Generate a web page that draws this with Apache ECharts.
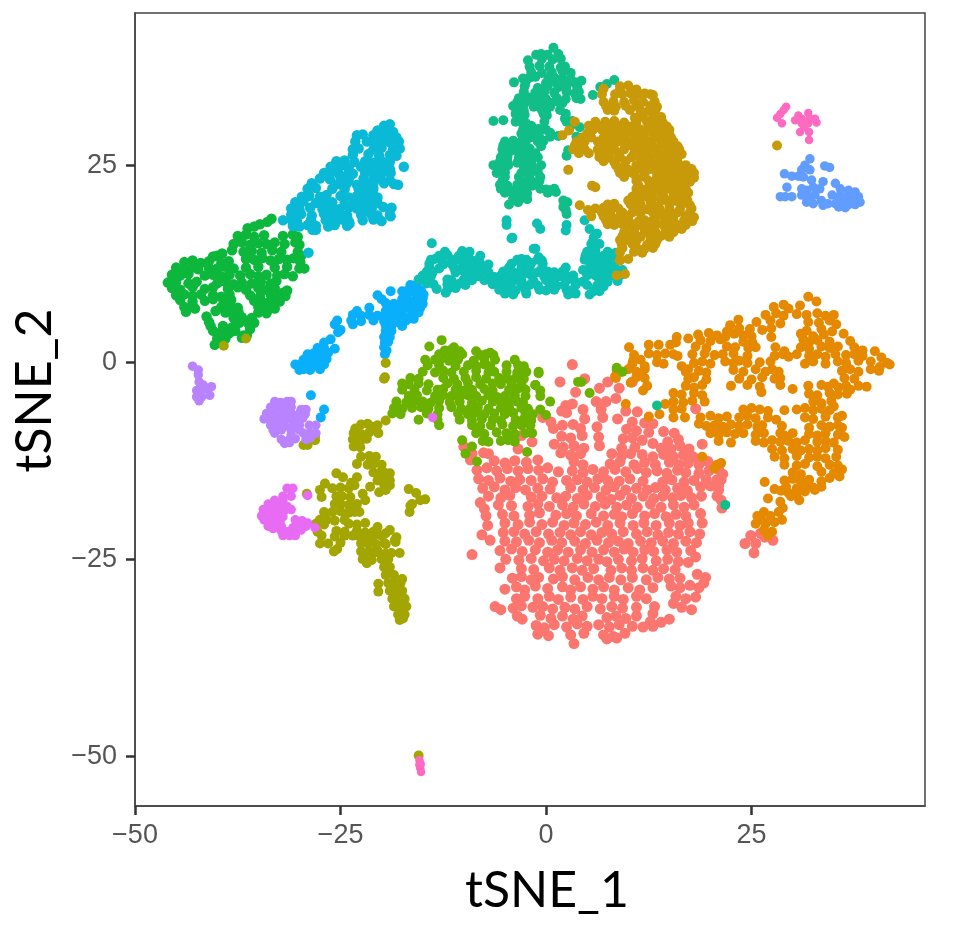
<!DOCTYPE html>
<html>
<head>
<meta charset="utf-8">
<script src="https://cdn.jsdelivr.net/npm/echarts@6/dist/echarts.min.js"></script>
<style>html,body{margin:0;padding:0;background:#fff}#main{width:954px;height:935px}</style>
</head>
<body>
<div id="main"></div>
<script>
// tick positions
var xTicks = [-50, -25, 0, 25]
var yTicks = [-50, -25, 0, 25]

// clusters in tSNE units
var salmon = [[3.2,-.3],[1.7,-2.5],[4.7,-2.1],[3.6,-3.8],[7.5,-2.5],[6.5,-3.3],[10.5,-2.5],[8.9,-3.3],[6.1,-5],[7.3,-5],[8.5,-4.6],[2.4,-5.5],[3.2,-5.3],[2.5,-6.4],[1.9,-6.2],[4.5,-6],[6.7,-6],[6.9,-7],[4.7,-7.2],[8.7,-7.2],[9.7,-6.2],[11.1,-6.3],[10.5,-7.6],[12,-7.7],[13,-7.8],[-.4,-7],[.6,-7.6],[.9,-8.4],[2,-8],[3.3,-7.9],[4.2,-8.4],[6.2,-8.2],[9.8,-8.5],[11,-8.7],[12.5,-8.9],[14.3,-8.8],[15.6,-9],
[1.9,-9.4],[3,-9.6],[4.4,-9.3],[6.4,-9.5],[9.4,-9.7],[10.5,-9.6],[11.7,-9.9],[14.8,-10.1],[16.1,-9.8],[1,-10.4],[2.1,-10.8],[3.4,-10.6],[4.6,-10.9],[6.5,-10.6],[9.2,-10.9],[10.8,-10.8],[13,-10.3],[14,-10.9],[15.2,-11],[16.3,-10.6],[17.4,-11],[19,-10.4],
[1.8,-11.5],[3,-11.8],[4.2,-11.6],[8,-11.6],[9.2,-11.9],[10.3,-11.6],[11.7,-11.7],[13,-12],[14.3,-11.7],[15.5,-12],[16.7,-11.8],[17.9,-12],[-10,-10.7],[-9,-11.6],[-7.6,-11.5],[-7,-11.6],[-4.2,-9.7],[-3,-9.3],[-1.7,-10.1],[-3.4,-11],[-9.2,-12.4],
[-6.3,-12.5],[-5,-12.8],[-3.8,-12.5],[-2.4,-12.7],[-1,-12.4],[3.4,-12.6],[4.5,-13],[7.8,-12.9],[9,-12.6],[10.7,-13],[12,-12.7],[13.3,-13],[15,-12.7],[16.2,-13],[17.3,-12.8],[18.6,-13],[19.7,-12.6],
[-8.4,-13.7],[-7.2,-13.4],[-6,-13.8],[-4.7,-13.5],[-3.4,-13.8],[-2.2,-13.5],[-.9,-13.7],[.2,-13.4],[1.5,-13.9],[3.2,-13.8],[4.5,-14],[5.7,-13.6],[7,-13.9],[8.4,-13.6],[9.7,-13.9],[11.1,-13.5],[12.2,-14],[13.5,-13.8],[14.7,-14.1],[16,-13.7],[17,-14],[18.6,-14.1],[19.8,-13.8],[21,-13.6],[21.5,-14.2],
[-8.2,-14.8],[-7,-15],[-5.6,-14.7],[-4.3,-15.1],[-3.2,-14.9],[-1.8,-15],[-.4,-14.8],[.8,-15.2],[2.5,-15],[3.8,-14.9],[5,-15.2],[6.3,-14.8],[7.5,-15],[8.9,-15.1],[10.2,-14.8],[11.8,-15.1],[14.2,-15.2],[15.3,-14.9],[16.8,-15.2],[18,-15],[19.5,-14.9],[20.8,-14.9],
[-7.7,-16],[-6.3,-15.8],[-5,-16.2],[-3.7,-15.9],[-2.5,-16.2],[-1,-16],[.5,-16.1],[3,-15.9],[4.5,-16.2],[5.9,-15.9],[7.3,-16.2],[8.3,-15.8],[9.7,-16.2],[11,-16],[12.3,-16.2],[13.3,-15.9],[14.5,-16.2],[16,-16],[17.2,-16.3],[18.8,-15.8],[20,-15.7],
[-7,-17],[-5.5,-17.2],[-4.4,-16.9],[-1.8,-17.1],[-.5,-17],[1.3,-17.2],[2.4,-17],[3.8,-17.3],[5,-16.9],[6.7,-17.1],[7.9,-17.4],[9,-16.9],[10.4,-17.3],[11.8,-17],[13.1,-17.3],[14.2,-17],[15.4,-17.2],[16.4,-16.9],[17.7,-17.2],[18.9,-17],[21,-16.2],[20.8,-17],
[-8,-17.8],[-7.5,-18.6],[-5.8,-18.1],[-4.2,-18.2],[-2.2,-18.3],[-1,-18],[.4,-18.3],[2,-18.1],[3.3,-18.4],[4.6,-18],[6,-18.3],[7.2,-18],[8.6,-18.4],[9.8,-18.1],[11.1,-18.4],[12.7,-18],[14,-18.4],[15.5,-18.1],[16.8,-18.4],[18,-18.1],[21.3,-17.5],[21.4,-18.5],
[-7.3,-19.5],[-5.3,-19.3],[-3.9,-19.5],[-2,-19.4],[-.8,-19.1],[1.2,-19.4],[2.5,-19.2],[3.7,-19.5],[5.5,-19.2],[7,-19.5],[8.3,-19.3],[9.2,-19.6],[10.5,-19.2],[12,-19.5],[13.2,-19.2],[14.6,-19.6],[15.8,-19.3],[17,-19.5],[18.8,-19.2],
[-7.1,-20.7],[-5,-20.4],[-3.4,-20.6],[-2,-20.3],[-.5,-20.6],[.8,-20.3],[2.2,-20.7],[3.4,-20.4],[4.8,-20.6],[6.1,-20.3],[7.5,-20.7],[9,-20.4],[10.6,-20.7],[11.9,-20.4],[13.4,-20.7],[15,-20.4],[16.3,-20.7],[17.3,-20.4],[19,-20.4],
[-7.8,-21.9],[-6.8,-22.6],[-5.2,-21.6],[-3.9,-21.5],[-2.6,-21.8],[-1.2,-21.5],[.3,-21.8],[1.7,-21.6],[3,-21.9],[4.2,-21.5],[5.5,-21.9],[6.8,-21.6],[8,-21.8],[9.4,-21.5],[11,-21.8],[12.3,-21.5],[13.6,-21.9],[14.9,-21.6],[16.1,-21.8],[17.5,-21.5],[18.7,-21.8],
[-5,-22.7],[-3.6,-22.8],[-2.1,-22.6],[-.8,-22.9],[.7,-22.6],[1.9,-22.9],[3.5,-22.7],[4.8,-23],[6.2,-22.6],[7.6,-22.9],[8.8,-22.7],[10,-23],[11.5,-22.7],[12.8,-22.9],[14.2,-22.7],[15.5,-23],[17,-22.7],[18.3,-22.9],
[-5.6,-23.9],[-4.2,-23.7],[-2.9,-24],[-1.3,-23.8],[.2,-24.1],[1.4,-23.8],[2.7,-24.1],[4.2,-23.8],[5.6,-24.1],[7,-23.8],[8.3,-24.1],[9.5,-23.7],[10.6,-24.1],[12,-23.8],[13.1,-24],[14.7,-23.8],[15.9,-24.1],[17.6,-23.9],[18.2,-24.7],
[-9,-24.4],[-4.9,-25],[-3.3,-25.1],[-1.8,-24.9],[-.3,-25.2],[1,-25],[2.2,-25.2],[3.8,-24.9],[5,-25.2],[6.4,-25],[7.4,-25.3],[8.8,-25],[10.4,-25.2],[11.7,-24.9],[13.4,-25.2],[14.8,-25],[16.1,-25.3],[17.3,-25.4],
[-5.6,-26.1],[-3,-26.2],[-1.5,-26.3],[.4,-26.1],[1.7,-26.4],[3.2,-26.1],[4.4,-26.4],[5.8,-26.2],[7.9,-26.4],[9.2,-26.1],[10.4,-26.4],[11.8,-26.1],[13,-26.4],[14.3,-26.2],[15.7,-26.3],
[-4.1,-27.4],[-3,-27.2],[-1.8,-27.6],[-.9,-27.3],[.9,-27.5],[2,-27.2],[3.5,-27.6],[5.1,-27.3],[6.4,-27.6],[7.7,-27.3],[9.1,-27.6],[10.5,-27.3],[12.2,-27.6],[13.6,-27.3],[15,-27.5],[16.3,-27.4],[18.4,-26.9],[19.4,-27.3],
[-5,-28.8],[-3.6,-28.5],[-2.6,-28.9],[-1.3,-28.4],[.2,-28.7],[2,-28.5],[3,-28.9],[4.2,-28.5],[5.7,-28.8],[7,-28.5],[8.3,-28.9],[10,-28.6],[11.4,-28.9],[13,-28.6],[15.2,-28.4],[16.3,-28.6],[17.5,-28.3],[18.6,-28.6],[19.2,-28],
[-3.6,-30],[-2.6,-29.7],[-1,-30],[.4,-29.7],[1.5,-30.1],[3,-29.8],[4.5,-30.1],[5.7,-29.7],[6.8,-30],[8.3,-29.7],[9.4,-30.1],[11,-29.7],[12.2,-30],[15.8,-29.7],[17,-30],[18.2,-29.8],[15.5,-30.6],[16.5,-31.1],[17.7,-31.4],
[-6.2,-31],[-5.5,-31.4],[-4,-31.2],[-3,-30.9],[-1.6,-31.1],[-.4,-31],[.8,-31.3],[2.3,-31.1],[3.5,-31.3],[5,-31],[6.6,-31.3],[8,-31],[9.3,-31.2],[11,-31.1],[13.2,-31],[13,-31.9],
[-3.5,-32.2],[-2.9,-32.6],[-.7,-32.1],[.6,-32.5],[2,-32.2],[3.3,-32.6],[4.4,-32.2],[7.4,-32.4],[8.5,-32.2],[9.7,-32.5],[11,-32.2],[12.7,-32.9],[15,-32.6],[14,-33],
[-1.2,-33.4],[-.2,-33.7],[1,-33.3],[2.5,-33.6],[3.8,-33.2],[5,-33.5],[6.4,-33.3],[7.7,-33.6],[8.9,-33.3],[10.5,-33.5],[11.8,-33.6],[13,-33.5],[-1,-34.5],[.3,-34.7],[3,-34.6],[4.6,-34.4],[7,-34.6],[8.2,-34.8],[9.6,-34.4],[3.4,-35.7],[7.4,-35.1],[8.6,-35],
[24.2,-23],[24.9,-22],[25.5,-23],[26.1,-21.7],[25.3,-24.2],[26.6,-22.2],[27.6,-22.6],[21.3,-14.9],[21,-15.6],[20.8,-8.3],[18.2,-5.9]]
var orange = [[31.9,8.3],[32.9,7.7],[27.7,7],[28.9,7.3],[30.9,7.2],[29.5,6.8],[26.7,6],[28,6.2],[28.9,5.9],[30.5,6.1],[31.7,6],[33,6.2],[34,5.9],[35,6],[25.6,5.1],[27.3,5.3],[28.5,4.9],[31.9,5.1],[33.2,5],[34.5,5.3],[35.3,4.8],[23.4,5.4],[22.4,4.7],[24.8,4.2],[26.3,4.1],[27.4,4.3],[22,3.9],[23.5,4.3],[31.7,4],[33.5,4.2],[34.8,3.9],
[18.5,3.5],[19.8,3.7],[20.8,3.4],[21.8,3.2],[22.9,3.6],[24,3.4],[25,3.3],[27.4,3.2],[31,3.6],[32.5,3.3],[33.8,3.5],[36.2,3.6],[17.3,3],[18.8,2.8],[20,2.7],[21.2,2.9],[24,2.6],[25.1,2.5],[31.3,2.9],[32,2.5],[33,2.8],[34.5,2.6],[37,2.7],
[10.1,1.9],[12.5,2.2],[13.7,2.2],[15.1,2.2],[15.9,3.2],[15.8,2.5],[18.2,2],[19.5,1.8],[22,2],[23,1.9],[24.6,1.8],[25.5,1.9],[27.9,1.9],[29,1.4],[31,1.9],[32,1.7],[33.5,2],[34.5,1.8],[35.5,2],[37.5,1.9],[38.5,1.5],[40,1.4],
[12.5,1.1],[13.5,.9],[14.5,1.1],[15.5,1],[16,.8],[17.8,1],[19.3,1.1],[20.5,.9],[21.5,1],[22.8,1.1],[24.5,.8],[27.8,.8],[28.8,1],[29.5,.7],[30.5,1],[32,.8],[33,1],[34,.7],[35.2,1],[36.5,.9],[37.5,1],[38.5,.8],
[10.6,.2],[11.5,.3],[13.5,0],[14.3,-.2],[16.5,-.5],[18,-.1],[19,.1],[20,-.2],[21.8,.1],[22.8,-.1],[23.5,.2],[24.5,-.1],[26,0],[27.3,.1],[31.5,-.2],[32.5,.1],[34,-.2],[35.5,.1],[36.5,-.1],[38,.2],[39.5,.1],[40.8,.6],[41.5,-.1],[40.6,-.6],[41.8,-.3],
[8.6,-1],[9.2,-1.2],[10,-.9],[11,-1.2],[12,-.9],[17,-1.2],[17.3,-.9],[18.6,-1.1],[19.5,-1.3],[22.8,-1],[24,-1.2],[25.5,-.9],[26.7,-1.2],[27.5,-.9],[28.3,-1.2],[36,-1.1],[37,-.9],[38,-1.2],[39.5,-.9],[40.5,-1.1],
[8.5,-2],[11,-1.9],[12,-2],[17.3,-2.1],[18,-1.9],[19.5,-2.2],[23.5,-2.1],[25,-2.2],[26.3,-1.9],[27.8,-2.1],[28.5,-2],[36.3,-2],[37.5,-2.1],[35,-2.7],
[11.8,-3.6],[17,-3],[18,-3.2],[19,-2.9],[22.5,-3],[24.5,-2.9],[26,-3.1],[28.5,-2.9],[30,-3.4],[31.9,-3],[33.5,-2.9],[34.3,-3.1],[35.6,-3.2],[36.5,-3],[37,-3.5],[38,-3],[39,-3.1],[15.5,-3.9],[16.5,-4.1],[18,-3.9],[19,-4.2],[26.2,-3.8],[32,-4],[33,-4.2],[34.5,-3.9],[35.5,-4.1],[36.6,-4],
[15.5,-5],[16.7,-5.1],[17.8,-4.9],[19.3,-5],[32.5,-5],[33.5,-5.2],[34.7,-4.9],[9.7,-5.3],[14.5,-5.3],[15.5,-6],[16.5,-5.9],[24,-6],[25,-5.8],[26,-6],[27,-6.2],[29,-6.1],[30.5,-6],[31.5,-5.8],[32.5,-6.1],[33.5,-5.9],[34.5,-6.1],[35,-5.6],
[12.5,-6.9],[13.8,-6.6],[15.5,-7],[16.9,-7],[18.8,-7],[20,-6.8],[21,-7.1],[22,-6.9],[23.5,-7],[24.5,-6.8],[25.5,-7.1],[27,-7],[28,-7.3],[31.5,-7],[32.5,-7.2],[34,-6.9],[35.5,-7],[36,-6.8],
[18.6,-7.8],[19.5,-8.1],[20.5,-8],[21.5,-8.2],[22.5,-7.9],[23.5,-8.1],[24.5,-7.9],[25.7,-8.2],[26.3,-8],[28.7,-8.1],[32,-8.3],[33.5,-8],[34.5,-8.2],[35.5,-8],[36,-8.3],[20,-9],[21,-9.2],[22,-8.9],[23,-9.1],[24,-9],[25.5,-9.2],[26.5,-9],[28.5,-9],[29,-9.3],[30,-9],[32,-9.1],[33,-9.3],[34,-9],[35.5,-9.2],[36.3,-9.5],
[21,-10],[22.5,-10.2],[25.5,-10],[26.5,-10.2],[27.5,-9.9],[28.5,-10.1],[29.5,-10],[30.5,-10.2],[31.5,-9.9],[33,-10.1],[34,-10],[35,-10.2],[27.5,-11],[28.7,-11.2],[30,-11],[31,-11.2],[32,-11],[33,-11.2],[34,-10.9],[35.5,-11.1],[27.8,-12],[29,-12.2],[30.5,-11.9],[32,-12.1],[33,-12],[34,-12.2],[35.3,-12],
[29,-13],[30.5,-13.1],[31.5,-12.9],[33,-13.2],[34.5,-13],[35.5,-13.1],[36,-13.6],[30,-14],[31,-14.2],[33.5,-13.9],[35,-14.1],[35.7,-14.5],[29,-15],[30,-14.8],[31,-15.1],[32,-14.9],[33.5,-15.1],[34.5,-14.7],[29.2,-15.8],[30.5,-16],[31.5,-15.8],[32.5,-15.9],[33.5,-15.8],
[26.6,-15.2],[27.8,-16.1],[28.6,-16.3],[29.5,-16.6],[30.5,-16.8],[31.5,-16.4],[32.7,-16.2],[28.5,-17.7],[29.8,-17],[30.8,-17.5],[27,-17.3],
[25.7,-19.5],[26.5,-19],[27.3,-19.5],[28.3,-19],[28.8,-18.5],[25.5,-20.5],[26.7,-20.5],[27.8,-20.3],[28.7,-20],[26.5,-21.3],[27.5,-21.5],[27,-22],[26.2,-20],
[20.8,-13],[21.3,-12.8],[20.5,-13.5],[19,-12],[10.7,.9],[12,-.5],[11.5,-1.5],[10.5,-.2],[8.4,-1.8],[10.3,-2.6],[12.3,-3]]
var green = [[-33.4,18.2],[-33.9,17.8],[-34.8,17.5],[-36.3,17],[-35.5,17.2],[-37.5,16],[-36.5,16.2],[-35.5,15.9],[-34.3,16.1],[-32,16],[-30.8,16.2],[-30.2,15.9],[-38,15],[-37,15.2],[-36,14.9],[-35,15.1],[-34,15],[-33,15.2],[-31.8,15],[-30.5,15.2],[-30,14.9],[-38.2,14.2],[-36.8,14],[-35.8,14.1],[-34.6,13.9],[-33.3,14.2],[-32.2,14],[-30.2,14],[-29.8,13.5],[-40.5,13.4],[-40,13.5],[-39.4,13.8],[-36.5,13.1],[-35.5,13],[-34.5,13.2],[-33.5,12.9],[-32.5,13.1],[-31.5,13],[-30.7,13.2],[-29.9,12.7],
[-44,12.7],[-43,12.9],[-42,12.6],[-41,12.8],[-39.5,12.6],[-38.6,12.8],[-45,12],[-44,11.8],[-43,12],[-42.3,11.8],[-41,12],[-40,11.9],[-39,12.1],[-38,11.9],[-36.5,12],[-35,12.1],[-33,12],[-31.5,12.1],[-30,11.9],[-29.4,11.9],
[-45.5,11.1],[-44.5,11],[-43.5,11.2],[-41.5,11],[-40.5,11.1],[-39.5,10.9],[-38.5,11.1],[-37.2,11],[-36,11.2],[-35,10.9],[-34,11.1],[-32.7,11],[-31.8,11.2],[-30.8,10.9],[-46,10.1],[-45,10.2],[-43.5,10],[-42.5,10.2],[-40,10],[-39,10.2],[-38,9.9],[-37,10.1],[-35.8,10],[-34.7,10.2],[-33.5,10],[-32.8,10.3],
[-45.5,9.4],[-44.5,9.2],[-43,9.5],[-41.5,9.3],[-40.5,9.5],[-38.7,9.3],[-37.5,9.5],[-36.5,9.2],[-35,9.4],[-34,9.2],[-33,9.4],[-45,8.5],[-44,8.6],[-43,8.4],[-42,8.6],[-40.5,8.5],[-39.5,8.3],[-38.5,8.6],[-36,8.5],[-34.8,8.3],[-33.5,8.6],[-32.7,8.4],[-32,8.8],[-31.7,8.4],[-31.5,9.1],
[-44.5,7.9],[-43,7.7],[-41.5,7.8],[-40.5,8],[-39.2,7.7],[-38.3,7.9],[-35.5,7.8],[-34.5,7.6],[-33.5,7.8],[-33,7.6],[-32.4,7.7],[-44,7],[-43,7.2],[-39.5,7],[-38.5,7.2],[-37.5,6.9],[-35,7],[-34,7.1],[-33.5,6.9],[-33,6.8],[-43.8,6.4],[-42.7,6.8],[-40.2,6.5],[-39,6.3],[-38,6.6],[-37.4,6.3],[-35,6.3],[-34,6.2],
[-41.3,5.8],[-38,5.6],[-37,5.7],[-35.8,5.6],[-35.5,5],[-41,5.1],[-37.3,5],[-36.2,4.9],[-40.8,4.6],[-40.5,4],[-39.3,4.6],[-38.2,4.4],[-36,4.2],[-39.5,3.8],[-38.5,3.7],[-37.8,4],[-36.8,3.4],[-40,3],[-39,3],[-37,3.1],[-36.4,3.4],[-40.3,2.2],[-39.5,2.4]]
var cyan = [[-19.7,30],[-19,30.2],[-20.5,29.4],[-19.7,29.3],[-18.6,29.2],[-23,28.8],[-22.3,28.9],[-21,28.8],[-20,28.6],[-18.9,28.7],[-18.2,28.5],[-23.2,28],[-21.8,28],[-20.8,27.9],[-19.7,28.1],[-19,27.9],[-17.9,28],[-23.5,27],[-22.8,27.1],[-21,27],[-20,27.2],[-18.6,27],[-17.8,27.1],[-23.5,26.3],[-21.6,26.4],[-20.3,26.2],[-19,26.3],[-18.2,26.2],
[-25.5,25.5],[-24.5,25.6],[-23.3,25.4],[-22,25.5],[-21,25.3],[-20,25.5],[-19,25.4],[-26.2,24.8],[-25,24.9],[-24,24.7],[-22.5,24.8],[-21.7,24.6],[-20.5,24.9],[-19.7,24.7],[-19,24.5],[-17.3,24.8],[-27,24],[-26,24.2],[-25.2,23.9],[-24,24.1],[-23.5,23.9],[-22,24],[-21,24.1],[-20,23.9],[-18.9,24],
[-27.5,23.3],[-26.3,23.2],[-25,23.4],[-24,23.2],[-22.2,23.3],[-21,23.2],[-20.2,23.3],[-19,23.1],[-28.5,22.7],[-25.3,22.6],[-24.2,22.7],[-23,22.5],[-22,22.7],[-21,22.6],[-19.7,22.7],[-18.5,22.6],[-18,22.5],[-29,22],[-28,22.1],[-26,22],[-24.5,21.9],[-22.8,22],[-22,21.9],[-21,22],
[-29.7,21],[-28.8,21.1],[-27.5,21],[-26.7,21.2],[-25,21.1],[-24,20.9],[-23,21.1],[-22,21],[-21,21.2],[-20.5,20.9],[-30.5,20.3],[-29.5,20.4],[-28,20.2],[-27,20.4],[-26,20.3],[-24.5,20.2],[-23.5,20.4],[-22.5,20.2],[-21.5,20.4],[-20.5,20.2],
[-31,19.5],[-30,19.4],[-28.7,19.6],[-27.2,19.4],[-26.2,19.5],[-25.2,19.4],[-24,19.6],[-23,19.5],[-22,19.4],[-21.2,19.5],[-19.8,19.7],[-18.8,19.6],[-31,18.7],[-29.8,18.8],[-28.5,18.6],[-27,18.8],[-26,18.7],[-25,18.8],[-24.2,18.6],[-22.5,18.7],[-21.3,18.8],[-20.5,18.6],[-19,18.7],[-18.9,18.5],
[-32,18],[-31,18.1],[-30.3,17.9],[-28.6,18],[-26.8,18],[-25.8,17.9],[-24.8,18.1],[-24,17.9],[-22.3,18],[-21,18.1],[-20,17.9],[-30.8,17.3],[-30,17.2],[-29,17.4],[-28,17.3],[-26.5,17.2],[-25.7,17.4],[-24.2,17.3],[-23.9,17.6],[-28,16.8],[-28.4,16.8],[-28.9,13.9]]
var blue = [[-16.5,9.8],[-15.7,9.9],[-17.5,9],[-16.8,9.1],[-16,8.9],[-15.2,9.1],[-14.9,8.6],[-18.9,9],[-20.5,8.5],[-17,8.4],[-15.8,8.5],[-15,8.1],[-20,8],[-17.5,8],[-16.7,7.8],[-15.5,7.9],[-19.5,7.5],[-18.5,7.4],[-17.5,7.5],[-16,7.4],[-15,7.4],[-19,7],[-18,6.9],[-17,7],[-16,6.8],[-15.3,6.9],
[-23,6.5],[-21.5,6.9],[-19.5,6.5],[-18.5,6.4],[-17.5,6.5],[-16.3,6.4],[-15.5,6.3],[-23.5,6],[-22.5,5.9],[-21.5,6],[-20.5,5.9],[-19.5,5.8],[-18.5,6],[-17.5,5.9],[-16.5,5.8],[-23.7,5.3],[-22.5,5.2],[-21,5.3],[-19.7,5.2],[-18.8,5.3],[-18,5.1],[-17,5.3],[-16.1,5.5],[-23.5,4.8],[-19.5,4.7],[-18.7,4.8],[-17.5,4.6],
[-19.5,4],[-18.8,4],[-25.4,5.3],[-25.7,4.8],[-19.7,3.2],[-19,3.2],[-25.3,3.8],[-25,4.1],[-19.6,2.5],[-19.2,2.6],[-27,2.5],[-26.2,2.9],[-19.7,1.9],[-19.4,1.5],[-27.8,1.8],[-27,1.8],[-25.7,1.7],[-19.6,1],[-29,1],[-28.3,1.1],[-27.5,1],[-26.5,1.2],[-29.5,.3],[-28.7,.4],[-28,.2],[-27.2,.3],[-26.7,.4],[-30.5,-.3],[-29.7,-.2],[-29,-.4],[-28.5,-.3],[-28,-.2],[-27,-.3],[-30,-1],[-29.5,-.9],[-28.7,-1],[-27.5,-.9],[-28.6,-4.2],[-27,-6],[-27.4,-7]]
var teal = [[-13.9,15.1],[-4.1,15.8],[-12.3,14],[-10.2,14.1],[-9.3,14],[-13,13.5],[-12,13.6],[-10.6,13.5],[-9.5,13.4],[-8,13.5],[-1.3,14.4],[-14,13],[-13.5,13.1],[-12.7,12.9],[-11.5,13],[-10.5,13],[-9,12.9],[-8.2,13],[-3.5,13],[-3,13.1],[-2.4,13],[-1,13],[-.5,12.9],[-14.2,12.5],[-12.5,12.4],[-11.5,12.5],[-10,12.6],[-9,12.4],[-8,12.5],[-7,12.4],[-4.2,12.5],[-3,12.4],[-1.8,12.6],[-.4,12.5],
[-14.2,12],[-13,11.9],[-11.2,12],[-10.3,11.9],[-9.5,12],[-8.5,11.9],[-7.5,11.8],[-4.5,12],[-3,11.9],[-2,12],[-.5,11.9],[2.4,12],[-14.5,11.5],[-13.8,11.4],[-11,11.4],[-10,11.5],[-9,11.4],[-8,11.5],[-7,11.4],[-5.2,11.5],[-4,11.4],[-3,11.5],[-2.3,11.3],[-1,11.4],[.2,11.5],[1,11.4],[2,11.5],
[-15,11],[-14,10.9],[-9.5,11],[-8.2,10.9],[-7,10.9],[-6.3,10.8],[-5.5,11],[-4.3,10.9],[-3.5,10.8],[-1.7,10.9],[-.2,10.8],[.7,11],[1.7,10.9],[2.5,10.9],[3.3,11],[-15.5,10.5],[-14.5,10.4],[-12,10.5],[-11.5,10.4],[-10,10.5],[-9,10.4],[-7.5,10.4],[-6,10.3],[-5,10.4],[-4,10.3],[-3,10.4],[-1.5,10.3],[0,10.4],[1,10.3],[2.5,10.4],[3.5,10.3],[4.5,10.2],
[-14.5,10],[-13.7,9.9],[-12,9.9],[-10.5,10],[-9.8,9.8],[-6.5,9.9],[-5.5,9.8],[-4.3,9.9],[-3,9.7],[-2,9.8],[-1,9.7],[.5,9.8],[1.3,9.7],[2.2,9.8],[3.6,9.8],[5,9.8],[-13.3,9.3],[-12,9.2],[-11,9.4],[-5.7,9.2],[-4.7,9.3],[-3.7,9.1],[-2.5,9.2],[-.8,9.2],[0,9.1],[1,9.2],[2.5,9.2],[3,9.1],[-12.2,8.8],[-5,8.7],[-4,8.6],[-2.4,8.7],[2.7,8.6],[3.6,8.7],[5.3,8.6],
[5.8,15.8],[5.5,15],[6.5,15],[5,14],[6,14.1],[7.5,14],[8.5,13.9],[9,14],[4.8,13.5],[6,13.4],[7,13.5],[8,13.4],[4.7,13],[5.5,12.9],[6.5,13],[7.5,12.9],[8.9,12.9],[5.4,12.3],[6.4,12.2],[7.3,12.3],[8.3,12.2],[4.5,11.7],[5.5,11.6],[6.5,11.7],[7.5,11.6],[8.5,11.7],[9.3,11.7],[5,11],[6,11],[7,10.9],[8,11],[9,11],[6.5,10.3],[7.5,10.2],[8.7,10.3],[6.2,9.7],[7,9.6],[5.8,9],[6.5,9],
[-4.8,18],[-4.8,17.4],[-4.2,15.7],[-1.1,17.6],[-.7,16.9],[2.5,17.4],[2.4,16.7],[4.7,18],[5.3,16.9],[6.2,16.3],[-1.5,14.4],[-.9,13.3],[5.7,15.3],[6,14.7]]
var tealgreen = [[.9,39.9],[-1.2,39],[-.6,39.1],[.2,39],[1.5,39.1],[-2.2,38.3],[-.5,38.5],[.8,38.4],[1.8,38.5],[-2,37.5],[-.8,37.6],[.4,37.5],[1.8,37.4],[2.3,37.5],[-1.8,36.8],[-.5,36.7],[.7,36.8],[2,36.9],[3,36.7],[-2.8,36],[-2,36.1],[-1.3,36.2],[.3,36],[1,36.1],[2,36],[3,35.9],[-3.9,35.5],[-2.5,35.5],[0,35.4],[1.2,35.5],[2.2,35.4],[3.5,35.5],[4.3,35.7],[-2.6,35],[-1,34.8],[.2,35],[1.5,34.9],[2.5,35],[3.8,34.9],
[-2.7,34.3],[-1.3,34.2],[-.2,34.3],[1,34.2],[2.5,34.3],[3.5,34.1],[4,34.3],[-3.3,33.5],[-2.2,33.6],[-1,33.5],[0,33.4],[1.3,33.5],[2.4,33.4],[3.7,33.5],[4.2,33.4],[-3.5,33],[-2.6,32.9],[-1.7,33],[-.5,32.9],[.6,32.9],[1.5,33],[2,32.9],[-4,32.5],[-2.8,32.5],[-1.5,32.4],[-.5,32.4],[.5,32.4],[-3.6,32],[-2.7,31.9],[-.5,32],[0,31.9],[1.7,32],[-3.7,31.5],[-2.6,31.4],[-.3,31.5],[.1,31.3],[2.4,31.5],
[-6.4,30.6],[-5.2,30.7],[-3.7,30.5],[-3,30.6],[-2.5,30.4],[-.2,30.5],[2.5,30.5],[3.2,30.6],[-2.7,30],[-1.8,30],[3,30],[-2.8,29.5],[-1.7,29.5],[-.9,29.6],[0,29.5],[4.1,29.8],[-3,29],[-2,29],[-.9,29],[.5,29.1],[-2.8,28.5],[-1.9,28.5],[-.8,28.5],[.5,28.6],[1.5,28.7],[-5,28],[-4,28.1],[-3,28],[-2.5,27.9],[-1,28],[-.3,28.1],[3.7,28.6],
[-5.2,27.5],[-4.3,27.5],[-3.7,27.4],[-.6,27.4],[-5.3,27],[-4.7,27],[-3.8,26.9],[-3,27],[-2,27.1],[2.7,26.9],[-5.2,26.5],[-4.6,26.5],[-3.3,26.5],[-2.4,26.4],[-1.3,26.5],[-5.5,26],[-4.7,26],[-3.3,25.9],[-2,26],[-1,26],[2.5,26.2],[-5.7,25.3],[-4.7,25.4],[-3.5,25.3],[-2.8,25.4],[-1.8,25.3],[-6.4,25],[-5.5,24.9],[-4.6,25],[-2.7,24.8],[-1.7,24.9],[-.6,25],
[-6,24],[-5,24.1],[-3,24],[-2,24],[-1,24.1],[-5,23.5],[-3.3,23.5],[-2,23.4],[-.7,23.5],[-5.3,23],[-3,23],[-1.7,22.9],[-.8,23],[-5.6,22.5],[-4.7,22.4],[-3.5,22.5],[-2.5,22.5],[-1.7,22.4],[-5.5,22],[-4.5,21.9],[-3.5,22],[-2.5,21.9],[-.7,22],[0,21.9],[.5,21.8],[1,22],[-5,21.5],[-4,21.4],[-3,21.5],[-2.3,21.4],[.2,21.5],[1.2,21.6],[-4,20.8],[-3,20.9],[-2.3,20.7],[-4.5,20],[-3.4,20.3],[-2.3,20.7],
[2.1,20.5],[2.6,20.3],[2.1,19.7],[2.5,18.8],[2.4,19.3],[5.7,33.9],[7.4,35.3],[8.3,35.8],[6.6,34.9],[2.3,30.9],[13.5,-5.5],[21.8,-18.1]]
var gold = [[9,35],[10,35.1],[7,34.7],[9,34.5],[10.4,34.5],[11,34.6],[12.7,34],[6.8,34],[8.4,34],[9.3,34],[10.3,34.1],[11.2,34],[12,34.1],[13,33.9],[7,33],[8.2,33.1],[9.5,33],[10.7,33.2],[11.8,33],[13.2,33.1],[7.3,32.5],[8.5,32.4],[9.7,32.5],[11,32.5],[12.7,32.5],[13.5,32.4],[7.5,32],[8.3,31.9],[10.2,32],[11.5,31.9],[12.5,31.9],[13.3,32],[10.8,31],[11.8,31.1],[13,31],[14,31.1],
[6,30.5],[7.2,30.5],[8.3,30.6],[9.5,30.4],[11,30.5],[12.3,30.4],[13.3,30.5],[14.2,30.4],[5.2,30],[6.5,29.9],[7.5,30],[9,30],[10.3,29.9],[11,30],[12.5,29.9],[13.5,30],[14.7,29.9],[3.5,30.5],[2.8,29.4],[2,28.8],[5.7,29.5],[6.8,29.5],[8,29.6],[9,29.5],[10,29.4],[11.5,29.5],[12.8,29.5],[14,29.4],[15,29.5],
[5,29],[7.2,29],[8.5,29],[9.6,29.1],[10.6,29],[11.8,29],[13,29.1],[14.2,29],[15,28.9],[4.4,28.5],[5.5,28.5],[7,28.5],[8,28.4],[9.5,28.5],[11,28.4],[12,28.5],[13.3,28.5],[14.5,28.4],[15.2,28.5],[3.7,28],[4.7,28],[6.3,28],[7.5,27.9],[8.8,28],[10,28],[11,27.9],[12.5,28],[14,28],[15.5,28],
[3.5,27.5],[4.5,27.4],[6.8,27.5],[8,27.4],[9.8,27.5],[10.5,27.4],[11.8,27.5],[13,27.4],[14.5,27.5],[15.7,27.5],[16,27.4],[3.3,27],[4.7,27],[6.3,27],[7.3,26.9],[8.3,27],[9.5,27],[11,26.9],[12.5,27],[13.5,27],[15,26.9],[16.2,27],[4,26.5],[5.2,26.5],[6.5,26.4],[7.5,26.5],[8.8,26.5],[10.7,26.4],[12,26.5],[13.5,26.4],[14.5,26.5],[16,26.5],[16.5,26.4],
[6.5,26],[7.8,25.9],[9,26],[10.4,26],[11.5,25.9],[12.7,26],[14,26],[15.2,25.9],[16,26],[7,25.5],[8.3,25.4],[9.7,25.5],[11.5,25.4],[12.5,25.5],[13.7,25.4],[15,25.5],[16,25.4],[8.5,25],[9.5,24.9],[11,25],[12.2,24.9],[13.2,25],[14.5,25],[15.5,24.9],[17,25],[8.8,24.5],[10,24.4],[11.2,24.5],[12.7,24.5],[14,24.4],[15,24.5],[16.5,24.4],[17.7,24.5],
[9,24],[10.5,24],[12,23.9],[13.5,24],[15,24],[16,23.9],[17,24],[18,24],[2.7,24.4],[9.5,23.5],[11,23.4],[12,23.5],[13.5,23.5],[14.5,23.4],[15.7,23.5],[17,23.5],[18,23.4],[11,23],[12.5,23],[13.5,22.9],[15,23],[16.5,23],[17.5,22.9],[5.6,22.4],[6,22.2],[11.2,22.5],[12.7,22.5],[14.3,22.4],[15.5,22.5],[16.5,22.4],
[11,22],[12,21.9],[13.5,22],[14.8,22],[16,21.9],[17,22],[11,21.5],[12.8,21.4],[14,21.5],[15.5,21.5],[16.5,21.4],[17.3,21.5],[10.5,21],[11.8,21],[13,20.9],[14.3,21],[15.5,21],[16.7,20.9],[10,20.5],[11.3,20.5],[12.7,20.4],[14,20.5],[15,20.5],[16,20.4],[17.2,20.5],
[7.5,20],[8.3,20.1],[10.3,20],[11.5,20],[13,19.9],[15,20],[16.5,20],[17.5,19.9],[4.1,19.9],[6,19.5],[7,19.6],[8,19.5],[8.8,19.5],[11,19.5],[12.3,19.4],[13.8,19.5],[15,19.5],[16.3,19.4],[17.7,19.5],[5.1,19.3],[6.8,19],[7.8,18.9],[9.3,19],[10.5,19],[11.5,18.9],[13,19],[14,19],[15,18.9],[16,19],[17.5,19],
[5.5,18.5],[7,18.5],[8,18.4],[9,18.5],[10,18.5],[13.5,18.5],[14.5,18.4],[15.5,18.5],[17,18.5],[18,18.4],[7.3,18],[8.3,17.9],[9,18],[10,18],[11.3,17.9],[12,18],[13,18],[14.5,17.9],[15.5,18],[16.8,18],[17.8,17.9],[7.5,17.5],[8.3,17.4],[9.3,17.5],[10.5,17.5],[11.5,17.4],[12.3,17.5],[13.5,17.5],[15,17.4],[16.5,17.5],[17,17.4],
[9.7,17],[10.8,17],[13,16.9],[14.5,17],[15.8,17],[16.5,16.9],[9.5,16.5],[10.7,16.4],[12,16.5],[13.3,16.5],[14.5,16.4],[15.5,16.5],[9.3,16],[10.5,16],[11.5,15.9],[12.7,16],[14,16],[15,15.9],[9,15.5],[10,15.5],[11,15.4],[12.7,15.5],[13.5,15.5],[9.2,15],[10.5,15],[12.3,14.9],[13.3,15],[9.3,14.5],[11,14.5],[12,14.4],[13,14.5],[9,14],[10.7,14],[11.7,13.9],[9,13],[10,13.1],[9,12.9],[9.6,11.2],[8.6,11],[28.1,27.5]]
var lime = [[-12.7,2.8],[-14.2,2],[-11.2,1.9],[-12.3,1.5],[-11.5,1.6],[-10.5,1.4],[-8.5,1.4],[-6.8,1.2],[-13,1],[-12,1.1],[-11,.9],[-10.2,1],[-8,.9],[-7.3,1],[-6.4,.9],[-14.7,.3],[-13.5,.3],[-12.8,.4],[-11.8,.2],[-10.7,.3],[-8.8,.2],[-7.5,.3],[-6.2,.3],[-3.8,.3],[-14.4,-.4],[-13,-.4],[-11,-.5],[-9.5,-.4],[-8.5,-.5],[-7.5,-.3],[-6.8,-.5],[-4.8,-.4],[-3.4,-.4],[-2.7,-.5],
[-15,-1.2],[-13.5,-1.3],[-12.5,-1.1],[-11.5,-1.3],[-10,-1.2],[-8.5,-1.1],[-7,-1.3],[-6.3,-1.2],[-4.8,-1.2],[-3.5,-1.3],[-2.4,-1.2],[-.9,-1.2],[-16.5,-2],[-15.5,-2.1],[-12.5,-2],[-11.2,-2.1],[-9.8,-2],[-8.5,-1.9],[-7.3,-2.1],[-5.7,-2],[-4.7,-2.1],[-3.7,-2],[-2.7,-2.1],
[-17.5,-2.7],[-16.7,-2.8],[-15.5,-2.7],[-14.3,-2.8],[-12,-2.7],[-10.8,-2.8],[-9.5,-2.6],[-8,-2.8],[-6.5,-2.7],[-5.5,-2.8],[-4.2,-2.7],[-3,-2.8],[-1.3,-2.9],[-17.5,-3.5],[-16,-3.5],[-14.5,-3.6],[-13.2,-3.5],[-12.5,-3.4],[-11,-3.5],[-10,-3.6],[-9,-3.5],[-7.5,-3.4],[-6.5,-3.6],[-4.5,-3.5],[-3.5,-3.4],[-2.5,-3.5],[-.7,-3.6],
[-16.7,-4.3],[-15.7,-4.2],[-13.5,-4.3],[-12.5,-4.2],[-11.5,-4.3],[-10.5,-4.4],[-9.5,-4.2],[-8.5,-4.3],[-7,-4.2],[-6,-4.4],[-5,-4.3],[-3.8,-4.2],[-2.5,-4.3],[-.7,-4.3],[-18.2,-5],[-17,-5.1],[-16,-4.9],[-15,-5],[-14,-5.1],[-13,-4.9],[-11.7,-5.1],[-10.5,-5],[-9,-5.1],[-7.8,-4.9],[-6.5,-5],[-5.5,-5.1],[-4.5,-4.9],[-3.5,-5],[-2.8,-5.1],[.5,-5],
[-18.5,-5.8],[-17.5,-5.9],[-16.3,-5.8],[-15.2,-5.7],[-14.3,-5.9],[-13,-5.8],[-11.5,-5.7],[-10.3,-5.9],[-9.2,-5.8],[-8.3,-5.7],[-7,-5.9],[-5.5,-5.8],[-4.5,-5.7],[-3,-5.8],[-2.2,-5.9],[-.7,-6],[-18.7,-6.5],[-17.7,-6.6],[-14.5,-6.5],[-13.2,-6.6],[-10.7,-6.5],[-9.5,-6.6],[-8.5,-6.4],[-7.5,-6.6],[-6.3,-6.5],[-5,-6.6],[-4,-6.4],[-2.5,-6.5],[-1.6,-6.6],[0,-6.7],
[-15.5,-7.3],[-13.2,-7.3],[-10.5,-7.3],[-9,-7.4],[-7.8,-7.2],[-6.5,-7.3],[-5.5,-7.4],[-3.7,-7.3],[-2.7,-7.2],[-1.8,-7.4],[-13,-8],[-9,-8],[-8,-8.1],[-6.7,-8],[-5.3,-7.9],[-4,-8.1],[-3,-8],[-1.9,-8],[-8.5,-9],[-7.5,-9.1],[-6,-8.9],[-4.8,-9],[-3.8,-9.1],[-2.5,-9],[-1.7,-9],[-7.7,-10],[-7,-10.1],[-5.5,-10],[-4.6,-9.9],
[-10.2,-9.9],[-9,-10.7],[-9.8,-11.6],[-8.4,-12.6],[-3.8,-10.1],[-2.3,-11.4],[-1.3,-2.9],[-.9,-1.4],[3.9,-2.5],[4.3,-2.5],[5.3,-3.9],[8.6,-.7],[9.3,-1.2]]
var olive = [[-19.5,-7.4],[-20.5,-8],[-21,-8.2],[-21.7,-7.8],[-22.5,-7.9],[-23.2,-8.4],[-23.4,-9],[-22.5,-9.1],[-21.5,-8.9],[-20.4,-9],[-23.5,-9.8],[-22.5,-9.9],[-21.8,-9.7],[-23.4,-10.7],[-22.6,-10.8],[-22.5,-12],[-21.5,-11.9],[-20.7,-12],[-21.7,-13],[-21,-12.9],[-20,-13],[-23,-12.9],[-21,-14],[-20.2,-14],[-19.8,-13.9],[-19,-14.1],[-20.5,-15],[-19.9,-14.9],[-19,-15],
[-25.5,-14.1],[-24.7,-14.6],[-23.7,-15.3],[-23,-14.6],[-19.7,-15.5],[-19,-15.6],[-26,-16],[-25,-15.9],[-24,-16],[-23.3,-15.6],[-21.4,-15.8],[-20.3,-16.5],[-19.5,-16.2],[-26.9,-15.4],[-27.5,-16.2],[-27.3,-17.1],[-25.5,-17],[-24.8,-17],[-23.8,-17.1],[-22.3,-16.7],[-25.7,-18],[-25,-18],[-24,-18.1],[-23,-18],[-22,-17.5],
[-27,-19],[-26,-19],[-25,-18.9],[-24,-19.1],[-23.3,-19],[-22.7,-19],[-27.5,-20],[-26.7,-20],[-25.7,-20.1],[-24.5,-20],[-28,-20.5],[-27,-20.6],[-24,-20.5],[-23,-20.6],[-22,-20.4],[-27.8,-21.5],[-25.5,-21.4],[-24.5,-21.5],[-23,-21.4],[-22,-21.6],[-21,-21.5],[-20.5,-20.9],[-27.3,-22],[-25.7,-22.1],[-24.5,-22],[-23.5,-22],[-22.7,-22.1],[-22,-22],[-21,-22.1],[-20,-22],[-19.5,-21.7],[-19,-21.3],
[-27.5,-23],[-26.5,-23],[-25,-22.9],[-22.5,-23],[-21.7,-23],[-20.7,-23.1],[-19.7,-22.9],[-19.5,-23.1],[-25.8,-24],[-25.4,-23.7],[-22.5,-24],[-21.5,-24],[-20.5,-23.9],[-22.3,-25],[-20.8,-24.1],[-18.2,-22.2],[-18.4,-22.6],[-18.3,-22.8],[-22.2,-24.7],[-21.2,-25.1],[-21.8,-25.5],[-20.4,-24.1],[-19.5,-24.3],[-18.8,-24.2],[-17.8,-24.2],[-20,-25],[-19.2,-25],[-19.7,-26],[-19,-26],[-19.5,-27],[-18.5,-27],[-17.5,-27.5],[-20.4,-28.1],[-20.4,-29.1],[-19.2,-28],[-18.5,-28],[-17.7,-28],[-19,-29],[-18.2,-29],[-17.5,-29],[-18.7,-30],[-18,-30],[-17.2,-30],[-18.5,-31],[-17.7,-31],[-17,-31],[-18,-32],[-17.2,-32],[-17.8,-32.7],[-17.4,-32.5],
[-16.7,-16.1],[-15.8,-16.6],[-16.5,-18.2],[-16.6,-19],[-16.3,-18],[-15.3,-17.5],[-14.7,-17.4],[-29.5,-10.5],[-29,-10.5],[-28.1,-9.9],[-28.1,-9.4],[-29.1,-16.7],[-19.6,-1.9],[-19.7,-2.1],[-39.2,2.1],[-36.5,3],[-19.5,-.1],[-15.5,-49.9]]
var periwinkle = [[32.1,25.8],[31.5,25],[31.1,24.4],[32.1,24.4],[29,23.9],[29.9,23.6],[30.7,23.6],[31.3,23.5],[32.3,23.1],[33.9,24.9],[34.5,24.7],[29.3,22.2],[33.7,22.9],[28.5,21],[29.1,21],[29.9,21],[31.1,22],[31.7,21.8],[32.5,22.2],[33.3,22],[31.1,21.2],[31.9,21],[32.7,21.2],[33.5,20.5],[34.3,20.1],[31.7,20.3],[32.5,20.1],[35.2,22.7],[35.8,22],[36.8,21.8],[37.6,21.6],[38,21],[38.2,20.3],[34.8,21.2],[35.6,21],[36.4,21],[37.2,21],[35.2,20.1],[36,20],[36.8,20],[37.6,20],[35.6,19.7],[36.4,19.6],[37.2,20.4],[33.7,19.9]]
var purple = [[-43,-.5],[-42.3,-1],[-42.3,-1.6],[-42.2,-2.5],[-42.5,-3.6],[-41.9,-3.4],[-41.3,-3.4],[-40.7,-3.1],[-42.5,-4.4],[-41.9,-4.4],[-40.9,-4.2],[-42.2,-4.9],[-41.7,-2.9],
[-33,-5],[-32.3,-5.1],[-31.5,-5],[-31,-5],[-33.5,-5.7],[-32.7,-5.7],[-31.8,-5.8],[-31,-5.7],[-29.8,-6],[-29.2,-6],[-34,-6.5],[-33,-6.5],[-32,-6.6],[-31,-6.5],[-30,-6.5],[-29.3,-6.6],[-34.3,-7.2],[-33.5,-7.2],[-32.5,-7.3],[-31.5,-7.2],[-30.5,-7.2],[-29.6,-7.1],[-33.5,-8],[-32.7,-8],[-31.8,-8.1],[-30.8,-8],[-30,-8],[-33.2,-8.6],[-32.2,-8.6],[-31,-8.7],[-30,-8.6],[-28.8,-8],[-28,-8],[-33,-9],[-31,-9.2],[-29.5,-9],[-28.7,-9],[-28,-9],[-32.2,-9.8],[-31.2,-9.8],[-30.5,-9.7],[-29.2,-9.8],[-28.7,-9.6],[-31.8,-10.3],[-31.2,-10.2]]
var magenta = [[-31.5,-16],[-30.8,-16],[-32,-17],[-31,-17],[-33,-17.5],[-32,-17.5],[-33.8,-18],[-33,-18],[-32,-18],[-31.5,-18.3],[-34.4,-18.7],[-33.5,-18.7],[-32.5,-18.7],[-31.8,-18.8],[-31,-18.7],[-34.6,-19.5],[-33.7,-19.5],[-33,-19.5],[-32,-19.6],[-34.3,-20],[-33.3,-20.1],[-32.3,-20],[-30.5,-20],[-29.7,-20.1],[-33.8,-20.8],[-33,-20.8],[-32.2,-20.8],[-30,-20.6],[-29.2,-20.8],[-29,-20.4],[-33.2,-21.1],[-32.2,-21.4],[-30.8,-21],[-29.8,-21.3],[-31.5,-21.5],[-30.5,-21.5],[-32,-22],[-31.2,-22],[-30.5,-22],[-28.1,-21],[-13.8,-7],[-29,-16.9],[-15.3,-51]]
var pink = [[29.2,32.4],[28.9,32],[28.5,31.5],[28.1,31],[28.7,30.3],[30.7,31.3],[31.9,31.6],[30.3,30.7],[31.1,30.9],[32.1,30.9],[32.7,30.9],[31.1,30.3],[31.9,30.3],[32.9,30.4],[30.9,29.2],[32,29.2],[32,28.2],[31.4,29.8],[-15.4,-50.5],[-15.4,-51.1],[-15.3,-51.5],[-15.2,-52]]

var clusters = [
    { data: salmon, color: '#FA766E', size: 11 },
    { data: orange, color: '#E58900', size: 10 },
    { data: green, color: '#0CB73C', size: 10.5 },
    { data: cyan, color: '#0AB9D6', size: 10.5 },
    { data: blue, color: '#0AAFFA', size: 10 },
    { data: teal, color: '#0CC0B3', size: 10 },
    { data: tealgreen, color: '#12BE88', size: 10 },
    { data: gold, color: '#C89A0A', size: 10 },
    { data: lime, color: '#6BB100', size: 10 },
    { data: olive, color: '#A3A500', size: 10 },
    { data: periwinkle, color: '#619CFF', size: 9.5 },
    { data: purple, color: '#B983FF', size: 9.5 },
    { data: magenta, color: '#E76BF3', size: 9.5 },
    { data: pink, color: '#FF6AC1', size: 8.5 }
]

var chart = echarts.init(document.getElementById('main'))

function tickLabel(v) {
    return String(v).replace('-', '\u2212')
}

function axisStyle(ticks, name, margin) {
    return {
        type: 'value',
        splitLine: { show: false },
        name: name,
        nameLocation: 'middle',
        axisLine: { onZero: false, lineStyle: { color: '#444', width: 1.5 } },
        axisTick: { customValues: ticks, length: 9, lineStyle: { color: '#333', width: 2.5 } },
        axisLabel: { customValues: ticks, formatter: tickLabel, fontFamily: 'Liberation Sans', fontSize: 27, color: '#555', margin: margin }
    }
}

var xAxis = axisStyle(xTicks, 'tSNE_1', 16)
xAxis.min = -50
xAxis.max = 46.1
xAxis.nameGap = 60
xAxis.nameTextStyle = { fontFamily: 'Lato', fontSize: 50, color: '#000', padding: [0, 0, 0, 34] }

var yAxis = axisStyle(yTicks, 'tSNE_2', 18)
yAxis.min = -56.3
yAxis.max = 44.3
yAxis.nameGap = 69
yAxis.nameTextStyle = { fontFamily: 'Lato', fontSize: 50, color: '#000', padding: [0, 0, 0, 38] }

chart.setOption({
    animation: false,
    grid: { left: 135, right: 29, top: 13, bottom: 129, show: true, borderColor: '#444', borderWidth: 1.5, outerBoundsMode: 'none' },
    xAxis: xAxis,
    yAxis: yAxis,
    series: clusters.map(function (c) {
        return { type: 'scatter', data: c.data, symbolSize: c.size, silent: true, itemStyle: { color: c.color, opacity: 1 } }
    })
})
</script>
</body>
</html>
